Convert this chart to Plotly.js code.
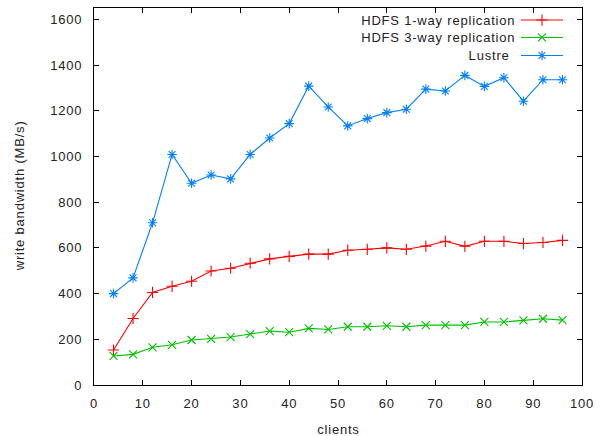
<!DOCTYPE html>
<html>
<head>
<meta charset="utf-8">
<script src="https://cdn.plot.ly/plotly-3.0.1.min.js"></script>
<style>
html,body{margin:0;padding:0;background:#fff;}
#chart{width:600px;height:436px;}
#chart svg text{letter-spacing:0.8px;}
</style>
</head>
<body>
<div id="chart"></div>
<script>
const clients = [4, 8, 12, 16, 20, 24, 28, 32, 36, 40, 44, 48, 52, 56, 60, 64, 68, 72, 76, 80, 84, 88, 92, 96];
const hdfs1 = [153, 291, 405, 432, 454, 499, 511, 533, 552, 563, 573, 573, 590, 594, 600, 594, 608, 629, 607, 629, 629, 619, 624, 633];
const hdfs3 = [127, 134, 165, 176, 197, 202, 210, 223, 236, 231, 248, 243, 255, 255, 259, 255, 262, 262, 262, 276, 276, 283, 290, 284];
const lustre = [400, 469, 710, 1009, 883, 919, 902, 1009, 1081, 1144, 1308, 1217, 1134, 1166, 1192, 1207, 1295, 1287, 1355, 1307, 1345, 1242, 1336, 1336];

const seriesNames = ["HDFS 1-way replication", "HDFS 3-way replication", "Lustre"];
const seriesColors = ["#ff0000", "#00c000", "#0080ff"];
const seriesSymbols = ["cross-thin-open", "x-thin-open", "asterisk-open"];
const seriesValues = [hdfs1, hdfs3, lustre];

const xTitle = "clients";
const yTitle = "write bandwidth (MB/s)";
const FONT = "Liberation Sans, Arial, sans-serif";
const TXT = "#222";

const traces = seriesValues.map((vals, i) => ({
  type: "scatter",
  mode: "lines+markers",
  x: clients,
  y: vals,
  name: seriesNames[i],
  showlegend: false,
  line: {color: seriesColors[i], width: 1.1},
  marker: {symbol: seriesSymbols[i], size: 8, color: seriesColors[i], line: {color: seriesColors[i], width: 1.1}}
}));

// custom legend (text left of sample, gnuplot style)
const legRowsY = [0.968, 0.9218, 0.874];
const legX0 = 0.875, legX1 = 0.961, legXm = 0.918;
const shapes = [];
const annotations = [];
seriesNames.forEach((n, i) => {
  shapes.push({type: "line", xref: "paper", yref: "paper", x0: legX0, x1: legX1, y0: legRowsY[i], y1: legRowsY[i],
    line: {color: seriesColors[i], width: 1.1}});
  annotations.push({xref: "paper", yref: "paper", x: 1, xshift: -73, y: legRowsY[i], xanchor: "right", yanchor: "middle",
    text: n, showarrow: false, font: {family: FONT, size: 13, color: TXT}});
  traces.push({type: "scatter", mode: "markers", xaxis: "x2", yaxis: "y2", x: [legXm], y: [legRowsY[i]],
    showlegend: false, hoverinfo: "skip",
    marker: {symbol: seriesSymbols[i], size: 8, color: seriesColors[i], line: {color: seriesColors[i], width: 1.1}}});
});
annotations.push({xref: "paper", yref: "paper", x: 0.5, y: 0, yshift: -44, xanchor: "center", yanchor: "middle",
  text: xTitle, showarrow: false, font: {family: FONT, size: 13, color: TXT}});
annotations.push({xref: "paper", yref: "paper", x: 0, xshift: -75, y: 0.5, xanchor: "center", yanchor: "middle",
  text: yTitle, textangle: -90, showarrow: false, font: {family: FONT, size: 13, color: TXT}});

const axisCommon = {
  showgrid: false, zeroline: false, showline: true, linecolor: "#000", linewidth: 1,
  ticks: "inside", ticklen: 5, tickwidth: 1, tickcolor: "#000", mirror: "ticks",
  tickfont: {family: FONT, size: 13, color: TXT}
};

const layout = {
  width: 600, height: 436,
  margin: {l: 94, r: 18, t: 8, b: 51},
  paper_bgcolor: "#fff", plot_bgcolor: "#fff",
  showlegend: false,
  xaxis: Object.assign({}, axisCommon, {range: [0, 100], dtick: 10, tick0: 0, ticklabelstandoff: 6}),
  yaxis: Object.assign({}, axisCommon, {range: [0, 1650], dtick: 200, tick0: 0, ticklabelstandoff: 8}),
  xaxis2: {overlaying: "x", range: [0, 1], visible: false, fixedrange: true},
  yaxis2: {overlaying: "y", range: [0, 1], visible: false, fixedrange: true},
  shapes: shapes,
  annotations: annotations
};

Plotly.newPlot("chart", traces, layout, {displayModeBar: false, staticPlot: true});
</script>
</body>
</html>
